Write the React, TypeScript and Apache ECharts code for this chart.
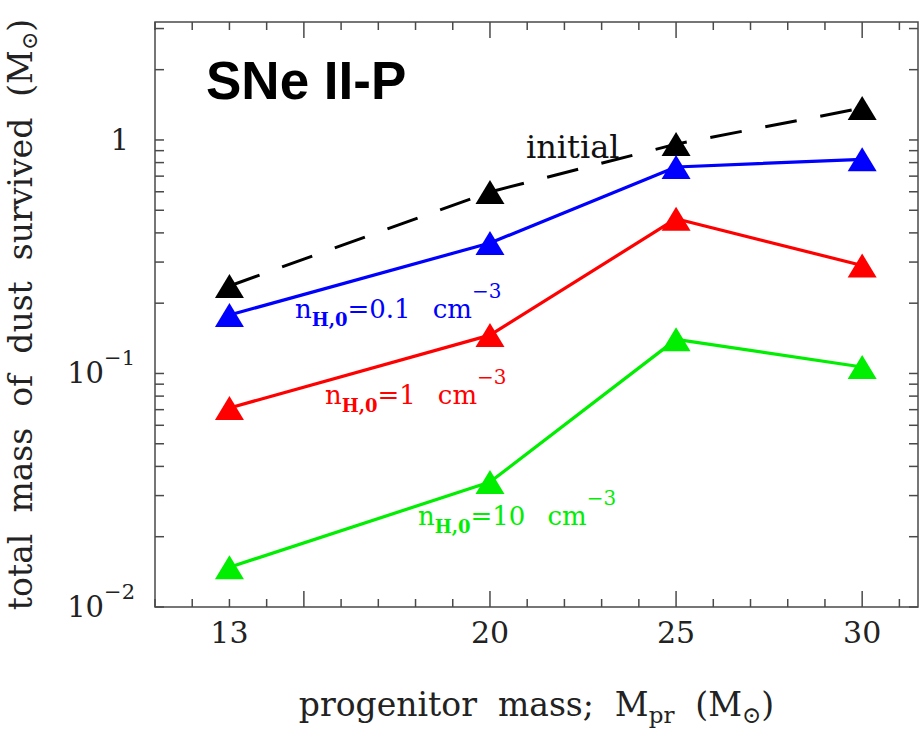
import React, { useEffect, useRef } from "react";
import * as echarts from "echarts";

// progenitor masses (M_sun)
const masses = [13, 20, 25, 30];
// total dust mass (M_sun)
const initialDust = [0.237, 0.599, 0.96, 1.37];
const dustN01 = [0.178, 0.362, 0.766, 0.826];
const dustN1 = [0.0712, 0.146, 0.46, 0.29];
const dustN10 = [0.0148, 0.0343, 0.14, 0.1066];

// axes
const X_MIN = 11;
const X_MAX = 31.5;
const Y_MIN = 0.01;
const Y_MAX = 3.2;
const xLabels = [13, 20, 25, 30];
const xMajorTicks = [15, 20, 25, 30];
const xMinorTicks = [11, 12, 13, 14, 16, 17, 18, 19, 21, 22, 23, 24, 26, 27, 28, 29, 31];
const yMajorTicks = [0.01, 0.1, 1];
const yMinorTicks = [
  0.02, 0.03, 0.04, 0.05, 0.06, 0.07, 0.08, 0.09,
  0.2, 0.3, 0.4, 0.5, 0.6, 0.7, 0.8, 0.9,
  2, 3,
];

const SERIF = "'DejaVu Serif', serif";
const AXIS_COLOR = "#4a4a4a";

type Tick = { axis: "x" | "y"; v: number; len: number };
const ticks: Tick[] = [
  ...xMajorTicks.map((v) => ({ axis: "x" as const, v, len: 16 })),
  ...xMinorTicks.map((v) => ({ axis: "x" as const, v, len: 8 })),
  ...yMajorTicks.map((v) => ({ axis: "y" as const, v, len: 9 })),
  ...yMinorTicks.map((v) => ({ axis: "y" as const, v, len: 9 })),
];

function pairs(ys: number[]) {
  return masses.map((m, i) => [m, ys[i]]);
}

function annotation(left: number, centerY: number, color: string, value: string) {
  return {
    type: "text",
    x: left,
    y: centerY,
    silent: true,
    style: {
      text: `{m|n}{sub|H,0}{m|=${value}}{gap|}{m|cm}{sup|−3}`,
      fill: color,
      align: "left",
      verticalAlign: "middle",
      rich: {
        m: { fontFamily: SERIF, fontSize: 26, lineHeight: 28, fill: color },
        gap: { width: 22, lineHeight: 2 },
        sub: {
          fontFamily: SERIF,
          fontSize: 18,
          fontWeight: "bold",
          lineHeight: 19,
          padding: [21, 0, 0, 0],
          fill: color,
        },
        sup: {
          fontFamily: SERIF,
          fontSize: 20,
          lineHeight: 20,
          padding: [0, 0, 36, 0],
          fill: color,
        },
      },
    },
  };
}

export default function App() {
  const ref = useRef<HTMLDivElement>(null);

  useEffect(() => {
    if (!ref.current) return;
    const chart = echarts.init(ref.current, undefined, { renderer: "svg" });

    const triangle = {
      symbol: "triangle",
      symbolSize: [29, 24],
    };

    const option: any = {
      animation: false,
      backgroundColor: "#ffffff",
      grid: {
        left: 155,
        top: 22,
        right: 5,
        bottom: 128,
        containLabel: false,
        outerBoundsMode: "none",
        show: true,
        borderColor: AXIS_COLOR,
        borderWidth: 1.5,
        backgroundColor: "transparent",
      },
      xAxis: {
        type: "value",
        min: X_MIN,
        max: X_MAX,
        interval: 1,
        axisLine: { show: false },
        axisTick: { show: false },
        splitLine: { show: false },
        axisLabel: {
          margin: 10,
          fontFamily: SERIF,
          fontSize: 30,
          color: "#222",
          showMaxLabel: false,
          formatter: (v: number) => (xLabels.indexOf(Math.round(v * 1000) / 1000) >= 0 ? String(v) : ""),
        },
        name: "{a|progenitor  mass;  M}{s|pr}{a|  (M}{s|⊙}{a|)}",
        nameLocation: "middle",
        nameGap: 80,
        nameTextStyle: {
          fontFamily: SERIF,
          fontSize: 33,
          color: "#222",
          rich: {
            a: { fontFamily: SERIF, fontSize: 33, lineHeight: 35, color: "#222" },
            s: { fontFamily: SERIF, fontSize: 23, lineHeight: 23, padding: [20, 0, 0, 0], color: "#222" },
          },
        },
      },
      yAxis: {
        type: "log",
        logBase: 10,
        min: Y_MIN,
        max: Y_MAX,
        axisLine: { show: false },
        axisTick: { show: false },
        splitLine: { show: false },
        axisLabel: {
          margin: 20,
          fontFamily: SERIF,
          fontSize: 29,
          color: "#222",
          formatter: (v: number) => {
            const e = Math.log10(v);
            const r = Math.round(e);
            if (Math.abs(e - r) > 1e-6) return "";
            if (r === 0) return "{one|1}";
            return `{b|10}{s|−${-r}}`;
          },
          rich: {
            one: { fontFamily: SERIF, fontSize: 29, lineHeight: 30, padding: [0, 6, 0, 0], color: "#222" },
            b: { fontFamily: SERIF, fontSize: 29, lineHeight: 30, color: "#222" },
            s: { fontFamily: SERIF, fontSize: 21, lineHeight: 22, padding: [0, 0, 30, 0], color: "#222" },
          },
        },
        name: "{a|total  mass  of  dust  survived  (M}{s|⊙}{a|)}",
        nameLocation: "middle",
        nameRotate: 90,
        nameGap: 117,
        nameTextStyle: {
          fontFamily: SERIF,
          fontSize: 33,
          color: "#222",
          rich: {
            a: { fontFamily: SERIF, fontSize: 33, lineHeight: 35, color: "#222" },
            s: { fontFamily: SERIF, fontSize: 22, lineHeight: 22, padding: [18, 0, 0, 0], color: "#222" },
          },
        },
      },
      series: [
        {
          type: "custom",
          silent: true,
          clip: false,
          z: 1,
          data: ticks.map((t) => (t.axis === "x" ? [t.v, Y_MIN] : [X_MIN, t.v])),
          renderItem: (params: any, api: any) => {
            const t = ticks[params.dataIndex];
            const style = { stroke: AXIS_COLOR, lineWidth: 1.5 };
            if (t.axis === "x") {
              const b = api.coord([t.v, Y_MIN]);
              const top = api.coord([t.v, Y_MAX]);
              return {
                type: "group",
                children: [
                  { type: "line", shape: { x1: b[0], y1: b[1], x2: b[0], y2: b[1] - t.len }, style },
                  { type: "line", shape: { x1: top[0], y1: top[1], x2: top[0], y2: top[1] + t.len }, style },
                ],
              };
            }
            const l = api.coord([X_MIN, t.v]);
            const r = api.coord([X_MAX, t.v]);
            return {
              type: "group",
              children: [
                { type: "line", shape: { x1: l[0], y1: l[1], x2: l[0] + t.len, y2: l[1] }, style },
                { type: "line", shape: { x1: r[0], y1: r[1], x2: r[0] - t.len, y2: r[1] }, style },
              ],
            };
          },
        },
        {
          name: "initial",
          type: "line",
          data: pairs(initialDust),
          ...triangle,
          itemStyle: { color: "#000000" },
          lineStyle: { color: "#000000", width: 3, type: [32, 24] },
          z: 3,
        },
        {
          name: "n=0.1",
          type: "line",
          data: pairs(dustN01),
          ...triangle,
          itemStyle: { color: "#0000ff" },
          lineStyle: { color: "#0000ff", width: 3.2 },
          z: 4,
        },
        {
          name: "n=1",
          type: "line",
          data: pairs(dustN1),
          ...triangle,
          itemStyle: { color: "#ff0000" },
          lineStyle: { color: "#ff0000", width: 3.2 },
          z: 4,
        },
        {
          name: "n=10",
          type: "line",
          data: pairs(dustN10),
          ...triangle,
          itemStyle: { color: "#00ee00" },
          lineStyle: { color: "#00ee00", width: 3.2 },
          z: 4,
        },
      ],
      graphic: [
        {
          type: "text",
          x: 206,
          y: 80,
          silent: true,
          style: {
            text: "SNe II-P",
            fontFamily: "'Liberation Sans', Arial, sans-serif",
            fontWeight: "bold",
            fontSize: 53,
            fill: "#000",
            align: "left",
            verticalAlign: "middle",
          },
        },
        {
          type: "text",
          x: 526,
          y: 147,
          silent: true,
          style: {
            text: "initial",
            fontFamily: SERIF,
            fontSize: 32,
            fill: "#111",
            align: "left",
            verticalAlign: "middle",
          },
        },
        annotation(295, 309, "#0000ff", "0.1"),
        annotation(325, 395, "#ff0000", "1"),
        annotation(418, 516, "#00ee00", "10"),
      ],
    };

    chart.setOption(option);
    return () => chart.dispose();
  }, []);

  return <div ref={ref} style={{ width: 923, height: 735, position: "absolute", left: 0, top: 0 }} />;
}
